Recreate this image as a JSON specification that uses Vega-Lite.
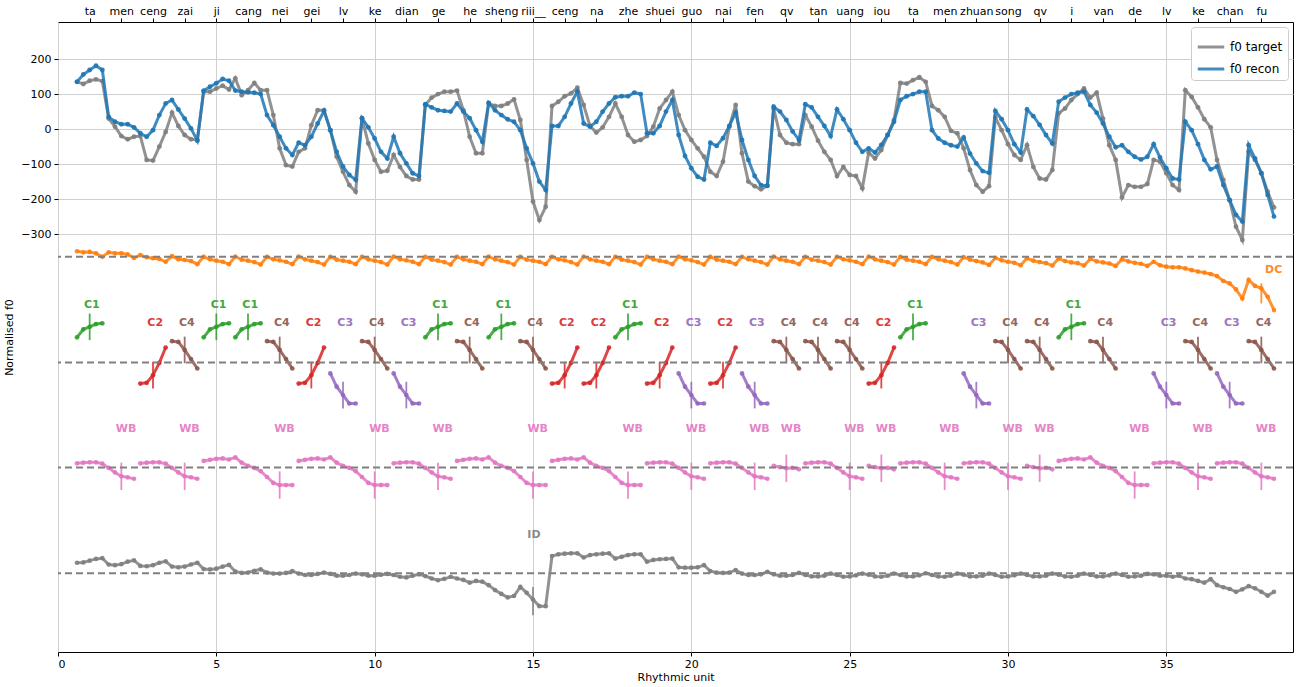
{
"$schema":"https://vega.github.io/schema/vega-lite/v6.json",
"width":1235,"height":630,
"autosize":{"type":"none"},
"padding":{"left":58,"top":22,"right":10,"bottom":35},
"background":"white",
"config":{"font":"DejaVu Sans","view":{"stroke":"black","strokeWidth":1},
"axis":{"labelFont":"DejaVu Sans","titleFont":"DejaVu Sans","labelFontSize":11,"titleFontSize":11,"titleFontWeight":"normal","labelColor":"black","titleColor":"black","tickColor":"black","domainColor":"black","gridColor":"#d0d0d0","gridWidth":1},
"legend":{"labelFont":"DejaVu Sans","labelFontSize":12}},
"datasets":{
"f0":[{"x":0.6,"T":135,"R":135},{"x":0.8,"T":129,"R":156},{"x":1,"T":138,"R":169},{"x":1.2,"T":142,"R":181},{"x":1.4,"T":137,"R":169},
{"x":1.6,"T":30,"R":35},{"x":1.8,"T":7,"R":21},{"x":2,"T":-20,"R":14},{"x":2.2,"T":-29,"R":14},{"x":2.4,"T":-22,"R":5},
{"x":2.6,"T":-20,"R":-12},{"x":2.8,"T":-88,"R":-22},{"x":3,"T":-90,"R":-3},{"x":3.2,"T":-50,"R":40},{"x":3.4,"T":-8,"R":73},
{"x":3.6,"T":47,"R":83},{"x":3.8,"T":9,"R":56},{"x":4,"T":-17,"R":30},{"x":4.2,"T":-29,"R":2},{"x":4.4,"T":-31,"R":-33},
{"x":4.6,"T":107,"R":110},{"x":4.8,"T":107,"R":121},{"x":5,"T":116,"R":131},{"x":5.2,"T":124,"R":143},{"x":5.4,"T":113,"R":138},
{"x":5.6,"T":145,"R":110},{"x":5.8,"T":97,"R":107},{"x":6,"T":111,"R":105},{"x":6.2,"T":132,"R":104},{"x":6.4,"T":111,"R":100},
{"x":6.6,"T":111,"R":40},{"x":6.8,"T":40,"R":11},{"x":7,"T":-55,"R":-22},{"x":7.2,"T":-103,"R":-55},{"x":7.4,"T":-107,"R":-74},
{"x":7.6,"T":-65,"R":-39},{"x":7.8,"T":-55,"R":-46},{"x":8,"T":11,"R":-22},{"x":8.2,"T":54,"R":16},{"x":8.4,"T":54,"R":52},
{"x":8.6,"T":-3,"R":-3},{"x":8.8,"T":-79,"R":-65},{"x":9,"T":-122,"R":-107},{"x":9.2,"T":-160,"R":-131},{"x":9.4,"T":-179,"R":-145},
{"x":9.6,"T":31,"R":31},{"x":9.8,"T":-41,"R":5},{"x":10,"T":-88,"R":-27},{"x":10.2,"T":-122,"R":-65},{"x":10.4,"T":-119,"R":-84},
{"x":10.6,"T":-74,"R":-22},{"x":10.8,"T":-108,"R":-69},{"x":11,"T":-134,"R":-98},{"x":11.2,"T":-144,"R":-126},{"x":11.4,"T":-144,"R":-134},
{"x":11.6,"T":69,"R":71},{"x":11.8,"T":90,"R":62},{"x":12,"T":100,"R":54},{"x":12.2,"T":107,"R":52},{"x":12.4,"T":107,"R":50},
{"x":12.6,"T":110,"R":73},{"x":12.8,"T":54,"R":50},{"x":13,"T":-22,"R":31},{"x":13.2,"T":-69,"R":-3},{"x":13.4,"T":-69,"R":-36},
{"x":13.6,"T":73,"R":75},{"x":13.8,"T":66,"R":54},{"x":14,"T":66,"R":40},{"x":14.2,"T":73,"R":28},{"x":14.4,"T":85,"R":21},
{"x":14.6,"T":26,"R":-3},{"x":14.8,"T":-88,"R":-55},{"x":15,"T":-207,"R":-98},{"x":15.2,"T":-260,"R":-150},{"x":15.4,"T":-222,"R":-174},
{"x":15.6,"T":66,"R":9},{"x":15.8,"T":78,"R":9},{"x":16,"T":94,"R":35},{"x":16.2,"T":102,"R":73},{"x":16.4,"T":118,"R":107},
{"x":16.6,"T":69,"R":16},{"x":16.8,"T":9,"R":7},{"x":17,"T":-10,"R":21},{"x":17.2,"T":5,"R":50},{"x":17.4,"T":35,"R":73},
{"x":17.6,"T":73,"R":91},{"x":17.8,"T":35,"R":94},{"x":18,"T":-17,"R":94},{"x":18.2,"T":-36,"R":104},{"x":18.4,"T":-31,"R":100},
{"x":18.6,"T":-20,"R":-12},{"x":18.8,"T":7,"R":-12},{"x":19,"T":59,"R":9},{"x":19.2,"T":83,"R":50},{"x":19.4,"T":107,"R":83},
{"x":19.6,"T":40,"R":-17},{"x":19.8,"T":-3,"R":-77},{"x":20,"T":-31,"R":-112},{"x":20.2,"T":-55,"R":-136},{"x":20.4,"T":-79,"R":-144},
{"x":20.6,"T":-122,"R":-39},{"x":20.8,"T":-134,"R":-48},{"x":21,"T":-93,"R":-26},{"x":21.2,"T":7,"R":9},{"x":21.4,"T":69,"R":47},
{"x":21.6,"T":-69,"R":-31},{"x":21.8,"T":-150,"R":-88},{"x":22,"T":-163,"R":-134},{"x":22.2,"T":-172,"R":-160},{"x":22.4,"T":-162,"R":-162},
{"x":22.6,"T":59,"R":64},{"x":22.8,"T":-17,"R":50},{"x":23,"T":-39,"R":26},{"x":23.2,"T":-43,"R":-7},{"x":23.4,"T":-43,"R":-31},
{"x":23.6,"T":40,"R":71},{"x":23.8,"T":7,"R":62},{"x":24,"T":-33,"R":35},{"x":24.2,"T":-65,"R":9},{"x":24.4,"T":-88,"R":-20},
{"x":24.6,"T":-134,"R":56},{"x":24.8,"T":-108,"R":28},{"x":25,"T":-131,"R":-3},{"x":25.2,"T":-134,"R":-39},{"x":25.4,"T":-169,"R":-65},
{"x":25.6,"T":-67,"R":-55},{"x":25.8,"T":-84,"R":-67},{"x":26,"T":-60,"R":-45},{"x":26.2,"T":-17,"R":-17},{"x":26.4,"T":26,"R":21},
{"x":26.6,"T":132,"R":83},{"x":26.8,"T":130,"R":94},{"x":27,"T":140,"R":100},{"x":27.2,"T":148,"R":107},{"x":27.4,"T":135,"R":107},
{"x":27.6,"T":66,"R":-3},{"x":27.8,"T":54,"R":-27},{"x":28,"T":35,"R":-39},{"x":28.2,"T":-5,"R":-46},{"x":28.4,"T":-12,"R":-50},
{"x":28.6,"T":-55,"R":-24},{"x":28.8,"T":-117,"R":-70},{"x":29,"T":-160,"R":-98},{"x":29.2,"T":-179,"R":-120},{"x":29.4,"T":-163,"R":-125},
{"x":29.6,"T":33,"R":52},{"x":29.8,"T":-3,"R":28},{"x":30,"T":-43,"R":-3},{"x":30.2,"T":-74,"R":-43},{"x":30.4,"T":-88,"R":-67},
{"x":30.6,"T":-46,"R":56},{"x":30.8,"T":-108,"R":37},{"x":31,"T":-141,"R":12},{"x":31.2,"T":-144,"R":-17},{"x":31.4,"T":-117,"R":-41},
{"x":31.6,"T":45,"R":78},{"x":31.8,"T":59,"R":90},{"x":32,"T":83,"R":100},{"x":32.2,"T":100,"R":104},{"x":32.4,"T":116,"R":107},
{"x":32.6,"T":90,"R":69},{"x":32.8,"T":104,"R":47},{"x":33,"T":30,"R":16},{"x":33.2,"T":-46,"R":-22},{"x":33.4,"T":-88,"R":-52},
{"x":33.6,"T":-195,"R":-46},{"x":33.8,"T":-160,"R":-65},{"x":34,"T":-165,"R":-79},{"x":34.2,"T":-165,"R":-87},{"x":34.4,"T":-157,"R":-79},
{"x":34.6,"T":-88,"R":-43},{"x":34.8,"T":-93,"R":-81},{"x":35,"T":-126,"R":-112},{"x":35.2,"T":-160,"R":-141},{"x":35.4,"T":-174,"R":-144},
{"x":35.6,"T":111,"R":21},{"x":35.8,"T":92,"R":-3},{"x":36,"T":62,"R":-43},{"x":36.2,"T":28,"R":-88},{"x":36.4,"T":5,"R":-115},
{"x":36.6,"T":-88,"R":-107},{"x":36.8,"T":-145,"R":-160},{"x":37,"T":-203,"R":-203},{"x":37.2,"T":-279,"R":-245},{"x":37.4,"T":-317,"R":-264},
{"x":37.6,"T":-65,"R":-46},{"x":37.8,"T":-88,"R":-84},{"x":38,"T":-126,"R":-126},{"x":38.2,"T":-179,"R":-188},{"x":38.4,"T":-224,"R":-250}],
"segs":[
{"g":"c1","t":"C1","x":0.6,"y":-595},{"g":"c1","t":"C1","x":0.8,"y":-572},{"g":"c1","t":"C1","x":1,"y":-565},{"g":"c1","t":"C1","x":1.2,"y":-557},{"g":"c1","t":"C1","x":1.4,"y":-555},
{"g":"c3","t":"C2","x":2.6,"y":-727},{"g":"c3","t":"C2","x":2.8,"y":-725},{"g":"c3","t":"C2","x":3,"y":-703},{"g":"c3","t":"C2","x":3.2,"y":-668},{"g":"c3","t":"C2","x":3.4,"y":-624},
{"g":"c4","t":"C4","x":3.6,"y":-606},{"g":"c4","t":"C4","x":3.8,"y":-608},{"g":"c4","t":"C4","x":4,"y":-631},{"g":"c4","t":"C4","x":4.2,"y":-657},{"g":"c4","t":"C4","x":4.4,"y":-684},
{"g":"c5","t":"C1","x":4.6,"y":-595},{"g":"c5","t":"C1","x":4.8,"y":-572},{"g":"c5","t":"C1","x":5,"y":-565},{"g":"c5","t":"C1","x":5.2,"y":-557},{"g":"c5","t":"C1","x":5.4,"y":-555},
{"g":"c6","t":"C1","x":5.6,"y":-595},{"g":"c6","t":"C1","x":5.8,"y":-572},{"g":"c6","t":"C1","x":6,"y":-565},{"g":"c6","t":"C1","x":6.2,"y":-557},{"g":"c6","t":"C1","x":6.4,"y":-555},
{"g":"c7","t":"C4","x":6.6,"y":-606},{"g":"c7","t":"C4","x":6.8,"y":-608},{"g":"c7","t":"C4","x":7,"y":-631},{"g":"c7","t":"C4","x":7.2,"y":-657},{"g":"c7","t":"C4","x":7.4,"y":-684},
{"g":"c8","t":"C2","x":7.6,"y":-727},{"g":"c8","t":"C2","x":7.8,"y":-725},{"g":"c8","t":"C2","x":8,"y":-703},{"g":"c8","t":"C2","x":8.2,"y":-668},{"g":"c8","t":"C2","x":8.4,"y":-624},
{"g":"c9","t":"C3","x":8.6,"y":-698},{"g":"c9","t":"C3","x":8.8,"y":-736},{"g":"c9","t":"C3","x":9,"y":-760},{"g":"c9","t":"C3","x":9.2,"y":-784},{"g":"c9","t":"C3","x":9.4,"y":-784},
{"g":"c10","t":"C4","x":9.6,"y":-606},{"g":"c10","t":"C4","x":9.8,"y":-608},{"g":"c10","t":"C4","x":10,"y":-631},{"g":"c10","t":"C4","x":10.2,"y":-657},{"g":"c10","t":"C4","x":10.4,"y":-684},
{"g":"c11","t":"C3","x":10.6,"y":-698},{"g":"c11","t":"C3","x":10.8,"y":-736},{"g":"c11","t":"C3","x":11,"y":-760},{"g":"c11","t":"C3","x":11.2,"y":-784},{"g":"c11","t":"C3","x":11.4,"y":-784},
{"g":"c12","t":"C1","x":11.6,"y":-595},{"g":"c12","t":"C1","x":11.8,"y":-572},{"g":"c12","t":"C1","x":12,"y":-565},{"g":"c12","t":"C1","x":12.2,"y":-557},{"g":"c12","t":"C1","x":12.4,"y":-555},
{"g":"c13","t":"C4","x":12.6,"y":-606},{"g":"c13","t":"C4","x":12.8,"y":-608},{"g":"c13","t":"C4","x":13,"y":-631},{"g":"c13","t":"C4","x":13.2,"y":-657},{"g":"c13","t":"C4","x":13.4,"y":-684},
{"g":"c14","t":"C1","x":13.6,"y":-595},{"g":"c14","t":"C1","x":13.8,"y":-572},{"g":"c14","t":"C1","x":14,"y":-565},{"g":"c14","t":"C1","x":14.2,"y":-557},{"g":"c14","t":"C1","x":14.4,"y":-555},
{"g":"c15","t":"C4","x":14.6,"y":-606},{"g":"c15","t":"C4","x":14.8,"y":-608},{"g":"c15","t":"C4","x":15,"y":-631},{"g":"c15","t":"C4","x":15.2,"y":-657},{"g":"c15","t":"C4","x":15.4,"y":-684},
{"g":"c16","t":"C2","x":15.6,"y":-727},{"g":"c16","t":"C2","x":15.8,"y":-725},{"g":"c16","t":"C2","x":16,"y":-703},{"g":"c16","t":"C2","x":16.2,"y":-668},{"g":"c16","t":"C2","x":16.4,"y":-624},
{"g":"c17","t":"C2","x":16.6,"y":-727},{"g":"c17","t":"C2","x":16.8,"y":-725},{"g":"c17","t":"C2","x":17,"y":-703},{"g":"c17","t":"C2","x":17.2,"y":-668},{"g":"c17","t":"C2","x":17.4,"y":-624},
{"g":"c18","t":"C1","x":17.6,"y":-595},{"g":"c18","t":"C1","x":17.8,"y":-572},{"g":"c18","t":"C1","x":18,"y":-565},{"g":"c18","t":"C1","x":18.2,"y":-557},{"g":"c18","t":"C1","x":18.4,"y":-555},
{"g":"c19","t":"C2","x":18.6,"y":-727},{"g":"c19","t":"C2","x":18.8,"y":-725},{"g":"c19","t":"C2","x":19,"y":-703},{"g":"c19","t":"C2","x":19.2,"y":-668},{"g":"c19","t":"C2","x":19.4,"y":-624},
{"g":"c20","t":"C3","x":19.6,"y":-698},{"g":"c20","t":"C3","x":19.8,"y":-736},{"g":"c20","t":"C3","x":20,"y":-760},{"g":"c20","t":"C3","x":20.2,"y":-784},{"g":"c20","t":"C3","x":20.4,"y":-784},
{"g":"c21","t":"C2","x":20.6,"y":-727},{"g":"c21","t":"C2","x":20.8,"y":-725},{"g":"c21","t":"C2","x":21,"y":-703},{"g":"c21","t":"C2","x":21.2,"y":-668},{"g":"c21","t":"C2","x":21.4,"y":-624},
{"g":"c22","t":"C3","x":21.6,"y":-698},{"g":"c22","t":"C3","x":21.8,"y":-736},{"g":"c22","t":"C3","x":22,"y":-760},{"g":"c22","t":"C3","x":22.2,"y":-784},{"g":"c22","t":"C3","x":22.4,"y":-784},
{"g":"c23","t":"C4","x":22.6,"y":-606},{"g":"c23","t":"C4","x":22.8,"y":-608},{"g":"c23","t":"C4","x":23,"y":-631},{"g":"c23","t":"C4","x":23.2,"y":-657},{"g":"c23","t":"C4","x":23.4,"y":-684},
{"g":"c24","t":"C4","x":23.6,"y":-606},{"g":"c24","t":"C4","x":23.8,"y":-608},{"g":"c24","t":"C4","x":24,"y":-631},{"g":"c24","t":"C4","x":24.2,"y":-657},{"g":"c24","t":"C4","x":24.4,"y":-684},
{"g":"c25","t":"C4","x":24.6,"y":-606},{"g":"c25","t":"C4","x":24.8,"y":-608},{"g":"c25","t":"C4","x":25,"y":-631},{"g":"c25","t":"C4","x":25.2,"y":-657},{"g":"c25","t":"C4","x":25.4,"y":-684},
{"g":"c26","t":"C2","x":25.6,"y":-727},{"g":"c26","t":"C2","x":25.8,"y":-725},{"g":"c26","t":"C2","x":26,"y":-703},{"g":"c26","t":"C2","x":26.2,"y":-668},{"g":"c26","t":"C2","x":26.4,"y":-624},
{"g":"c27","t":"C1","x":26.6,"y":-595},{"g":"c27","t":"C1","x":26.8,"y":-572},{"g":"c27","t":"C1","x":27,"y":-565},{"g":"c27","t":"C1","x":27.2,"y":-557},{"g":"c27","t":"C1","x":27.4,"y":-555},
{"g":"c29","t":"C3","x":28.6,"y":-698},{"g":"c29","t":"C3","x":28.8,"y":-736},{"g":"c29","t":"C3","x":29,"y":-760},{"g":"c29","t":"C3","x":29.2,"y":-784},{"g":"c29","t":"C3","x":29.4,"y":-784},
{"g":"c30","t":"C4","x":29.6,"y":-606},{"g":"c30","t":"C4","x":29.8,"y":-608},{"g":"c30","t":"C4","x":30,"y":-631},{"g":"c30","t":"C4","x":30.2,"y":-657},{"g":"c30","t":"C4","x":30.4,"y":-684},
{"g":"c31","t":"C4","x":30.6,"y":-606},{"g":"c31","t":"C4","x":30.8,"y":-608},{"g":"c31","t":"C4","x":31,"y":-631},{"g":"c31","t":"C4","x":31.2,"y":-657},{"g":"c31","t":"C4","x":31.4,"y":-684},
{"g":"c32","t":"C1","x":31.6,"y":-595},{"g":"c32","t":"C1","x":31.8,"y":-572},{"g":"c32","t":"C1","x":32,"y":-565},{"g":"c32","t":"C1","x":32.2,"y":-557},{"g":"c32","t":"C1","x":32.4,"y":-555},
{"g":"c33","t":"C4","x":32.6,"y":-606},{"g":"c33","t":"C4","x":32.8,"y":-608},{"g":"c33","t":"C4","x":33,"y":-631},{"g":"c33","t":"C4","x":33.2,"y":-657},{"g":"c33","t":"C4","x":33.4,"y":-684},
{"g":"c35","t":"C3","x":34.6,"y":-698},{"g":"c35","t":"C3","x":34.8,"y":-736},{"g":"c35","t":"C3","x":35,"y":-760},{"g":"c35","t":"C3","x":35.2,"y":-784},{"g":"c35","t":"C3","x":35.4,"y":-784},
{"g":"c36","t":"C4","x":35.6,"y":-606},{"g":"c36","t":"C4","x":35.8,"y":-608},{"g":"c36","t":"C4","x":36,"y":-631},{"g":"c36","t":"C4","x":36.2,"y":-657},{"g":"c36","t":"C4","x":36.4,"y":-684},
{"g":"c37","t":"C3","x":36.6,"y":-698},{"g":"c37","t":"C3","x":36.8,"y":-736},{"g":"c37","t":"C3","x":37,"y":-760},{"g":"c37","t":"C3","x":37.2,"y":-784},{"g":"c37","t":"C3","x":37.4,"y":-784},
{"g":"c38","t":"C4","x":37.6,"y":-606},{"g":"c38","t":"C4","x":37.8,"y":-608},{"g":"c38","t":"C4","x":38,"y":-631},{"g":"c38","t":"C4","x":38.2,"y":-657},{"g":"c38","t":"C4","x":38.4,"y":-684},
{"g":"w1","t":"WB","x":0.6,"y":-955},{"g":"w1","t":"WB","x":0.8,"y":-953},{"g":"w1","t":"WB","x":1,"y":-952},{"g":"w1","t":"WB","x":1.2,"y":-952},{"g":"w1","t":"WB","x":1.4,"y":-956},{"g":"w1","t":"WB","x":1.6,"y":-968},{"g":"w1","t":"WB","x":1.8,"y":-981},{"g":"w1","t":"WB","x":2,"y":-992},{"g":"w1","t":"WB","x":2.2,"y":-995},{"g":"w1","t":"WB","x":2.4,"y":-999},
{"g":"w3","t":"WB","x":2.6,"y":-955},{"g":"w3","t":"WB","x":2.8,"y":-953},{"g":"w3","t":"WB","x":3,"y":-952},{"g":"w3","t":"WB","x":3.2,"y":-952},{"g":"w3","t":"WB","x":3.4,"y":-956},{"g":"w3","t":"WB","x":3.6,"y":-968},{"g":"w3","t":"WB","x":3.8,"y":-981},{"g":"w3","t":"WB","x":4,"y":-992},{"g":"w3","t":"WB","x":4.2,"y":-995},{"g":"w3","t":"WB","x":4.4,"y":-999},
{"g":"w5","t":"WB","x":4.6,"y":-948},{"g":"w5","t":"WB","x":4.8,"y":-945},{"g":"w5","t":"WB","x":5,"y":-942},{"g":"w5","t":"WB","x":5.2,"y":-941},{"g":"w5","t":"WB","x":5.4,"y":-944},{"g":"w5","t":"WB","x":5.6,"y":-938},{"g":"w5","t":"WB","x":5.8,"y":-953},{"g":"w5","t":"WB","x":6,"y":-962},{"g":"w5","t":"WB","x":6.2,"y":-968},{"g":"w5","t":"WB","x":6.4,"y":-977},{"g":"w5","t":"WB","x":6.6,"y":-994},{"g":"w5","t":"WB","x":6.8,"y":-1011},{"g":"w5","t":"WB","x":7,"y":-1017},{"g":"w5","t":"WB","x":7.2,"y":-1017},{"g":"w5","t":"WB","x":7.4,"y":-1017},
{"g":"w8","t":"WB","x":7.6,"y":-948},{"g":"w8","t":"WB","x":7.8,"y":-945},{"g":"w8","t":"WB","x":8,"y":-942},{"g":"w8","t":"WB","x":8.2,"y":-941},{"g":"w8","t":"WB","x":8.4,"y":-944},{"g":"w8","t":"WB","x":8.6,"y":-938},{"g":"w8","t":"WB","x":8.8,"y":-953},{"g":"w8","t":"WB","x":9,"y":-962},{"g":"w8","t":"WB","x":9.2,"y":-968},{"g":"w8","t":"WB","x":9.4,"y":-977},{"g":"w8","t":"WB","x":9.6,"y":-994},{"g":"w8","t":"WB","x":9.8,"y":-1011},{"g":"w8","t":"WB","x":10,"y":-1017},{"g":"w8","t":"WB","x":10.2,"y":-1017},{"g":"w8","t":"WB","x":10.4,"y":-1017},
{"g":"w11","t":"WB","x":10.6,"y":-955},{"g":"w11","t":"WB","x":10.8,"y":-953},{"g":"w11","t":"WB","x":11,"y":-952},{"g":"w11","t":"WB","x":11.2,"y":-952},{"g":"w11","t":"WB","x":11.4,"y":-956},{"g":"w11","t":"WB","x":11.6,"y":-968},{"g":"w11","t":"WB","x":11.8,"y":-981},{"g":"w11","t":"WB","x":12,"y":-992},{"g":"w11","t":"WB","x":12.2,"y":-995},{"g":"w11","t":"WB","x":12.4,"y":-999},
{"g":"w13","t":"WB","x":12.6,"y":-948},{"g":"w13","t":"WB","x":12.8,"y":-945},{"g":"w13","t":"WB","x":13,"y":-942},{"g":"w13","t":"WB","x":13.2,"y":-941},{"g":"w13","t":"WB","x":13.4,"y":-944},{"g":"w13","t":"WB","x":13.6,"y":-938},{"g":"w13","t":"WB","x":13.8,"y":-953},{"g":"w13","t":"WB","x":14,"y":-962},{"g":"w13","t":"WB","x":14.2,"y":-968},{"g":"w13","t":"WB","x":14.4,"y":-977},{"g":"w13","t":"WB","x":14.6,"y":-994},{"g":"w13","t":"WB","x":14.8,"y":-1011},{"g":"w13","t":"WB","x":15,"y":-1017},{"g":"w13","t":"WB","x":15.2,"y":-1017},{"g":"w13","t":"WB","x":15.4,"y":-1017},
{"g":"w16","t":"WB","x":15.6,"y":-948},{"g":"w16","t":"WB","x":15.8,"y":-945},{"g":"w16","t":"WB","x":16,"y":-942},{"g":"w16","t":"WB","x":16.2,"y":-941},{"g":"w16","t":"WB","x":16.4,"y":-944},{"g":"w16","t":"WB","x":16.6,"y":-938},{"g":"w16","t":"WB","x":16.8,"y":-953},{"g":"w16","t":"WB","x":17,"y":-962},{"g":"w16","t":"WB","x":17.2,"y":-968},{"g":"w16","t":"WB","x":17.4,"y":-977},{"g":"w16","t":"WB","x":17.6,"y":-994},{"g":"w16","t":"WB","x":17.8,"y":-1011},{"g":"w16","t":"WB","x":18,"y":-1017},{"g":"w16","t":"WB","x":18.2,"y":-1017},{"g":"w16","t":"WB","x":18.4,"y":-1017},
{"g":"w19","t":"WB","x":18.6,"y":-955},{"g":"w19","t":"WB","x":18.8,"y":-953},{"g":"w19","t":"WB","x":19,"y":-952},{"g":"w19","t":"WB","x":19.2,"y":-952},{"g":"w19","t":"WB","x":19.4,"y":-956},{"g":"w19","t":"WB","x":19.6,"y":-968},{"g":"w19","t":"WB","x":19.8,"y":-981},{"g":"w19","t":"WB","x":20,"y":-992},{"g":"w19","t":"WB","x":20.2,"y":-995},{"g":"w19","t":"WB","x":20.4,"y":-999},
{"g":"w21","t":"WB","x":20.6,"y":-955},{"g":"w21","t":"WB","x":20.8,"y":-953},{"g":"w21","t":"WB","x":21,"y":-952},{"g":"w21","t":"WB","x":21.2,"y":-952},{"g":"w21","t":"WB","x":21.4,"y":-956},{"g":"w21","t":"WB","x":21.6,"y":-968},{"g":"w21","t":"WB","x":21.8,"y":-981},{"g":"w21","t":"WB","x":22,"y":-992},{"g":"w21","t":"WB","x":22.2,"y":-995},{"g":"w21","t":"WB","x":22.4,"y":-999},
{"g":"w23","t":"WB","x":22.6,"y":-962},{"g":"w23","t":"WB","x":22.8,"y":-966},{"g":"w23","t":"WB","x":23,"y":-969},{"g":"w23","t":"WB","x":23.2,"y":-968},{"g":"w23","t":"WB","x":23.4,"y":-972},
{"g":"w24","t":"WB","x":23.6,"y":-955},{"g":"w24","t":"WB","x":23.8,"y":-953},{"g":"w24","t":"WB","x":24,"y":-952},{"g":"w24","t":"WB","x":24.2,"y":-952},{"g":"w24","t":"WB","x":24.4,"y":-956},{"g":"w24","t":"WB","x":24.6,"y":-968},{"g":"w24","t":"WB","x":24.8,"y":-981},{"g":"w24","t":"WB","x":25,"y":-992},{"g":"w24","t":"WB","x":25.2,"y":-995},{"g":"w24","t":"WB","x":25.4,"y":-999},
{"g":"w26","t":"WB","x":25.6,"y":-962},{"g":"w26","t":"WB","x":25.8,"y":-966},{"g":"w26","t":"WB","x":26,"y":-969},{"g":"w26","t":"WB","x":26.2,"y":-968},{"g":"w26","t":"WB","x":26.4,"y":-972},
{"g":"w27","t":"WB","x":26.6,"y":-955},{"g":"w27","t":"WB","x":26.8,"y":-953},{"g":"w27","t":"WB","x":27,"y":-952},{"g":"w27","t":"WB","x":27.2,"y":-952},{"g":"w27","t":"WB","x":27.4,"y":-956},{"g":"w27","t":"WB","x":27.6,"y":-968},{"g":"w27","t":"WB","x":27.8,"y":-981},{"g":"w27","t":"WB","x":28,"y":-992},{"g":"w27","t":"WB","x":28.2,"y":-995},{"g":"w27","t":"WB","x":28.4,"y":-999},
{"g":"w29","t":"WB","x":28.6,"y":-955},{"g":"w29","t":"WB","x":28.8,"y":-953},{"g":"w29","t":"WB","x":29,"y":-952},{"g":"w29","t":"WB","x":29.2,"y":-952},{"g":"w29","t":"WB","x":29.4,"y":-956},{"g":"w29","t":"WB","x":29.6,"y":-968},{"g":"w29","t":"WB","x":29.8,"y":-981},{"g":"w29","t":"WB","x":30,"y":-992},{"g":"w29","t":"WB","x":30.2,"y":-995},{"g":"w29","t":"WB","x":30.4,"y":-999},
{"g":"w31","t":"WB","x":30.6,"y":-962},{"g":"w31","t":"WB","x":30.8,"y":-966},{"g":"w31","t":"WB","x":31,"y":-969},{"g":"w31","t":"WB","x":31.2,"y":-968},{"g":"w31","t":"WB","x":31.4,"y":-972},
{"g":"w32","t":"WB","x":31.6,"y":-948},{"g":"w32","t":"WB","x":31.8,"y":-945},{"g":"w32","t":"WB","x":32,"y":-942},{"g":"w32","t":"WB","x":32.2,"y":-941},{"g":"w32","t":"WB","x":32.4,"y":-944},{"g":"w32","t":"WB","x":32.6,"y":-938},{"g":"w32","t":"WB","x":32.8,"y":-953},{"g":"w32","t":"WB","x":33,"y":-962},{"g":"w32","t":"WB","x":33.2,"y":-968},{"g":"w32","t":"WB","x":33.4,"y":-977},{"g":"w32","t":"WB","x":33.6,"y":-994},{"g":"w32","t":"WB","x":33.8,"y":-1011},{"g":"w32","t":"WB","x":34,"y":-1017},{"g":"w32","t":"WB","x":34.2,"y":-1017},{"g":"w32","t":"WB","x":34.4,"y":-1017},
{"g":"w35","t":"WB","x":34.6,"y":-955},{"g":"w35","t":"WB","x":34.8,"y":-953},{"g":"w35","t":"WB","x":35,"y":-952},{"g":"w35","t":"WB","x":35.2,"y":-952},{"g":"w35","t":"WB","x":35.4,"y":-956},{"g":"w35","t":"WB","x":35.6,"y":-968},{"g":"w35","t":"WB","x":35.8,"y":-981},{"g":"w35","t":"WB","x":36,"y":-992},{"g":"w35","t":"WB","x":36.2,"y":-995},{"g":"w35","t":"WB","x":36.4,"y":-999},
{"g":"w37","t":"WB","x":36.6,"y":-955},{"g":"w37","t":"WB","x":36.8,"y":-953},{"g":"w37","t":"WB","x":37,"y":-952},{"g":"w37","t":"WB","x":37.2,"y":-952},{"g":"w37","t":"WB","x":37.4,"y":-956},{"g":"w37","t":"WB","x":37.6,"y":-968},{"g":"w37","t":"WB","x":37.8,"y":-981},{"g":"w37","t":"WB","x":38,"y":-992},{"g":"w37","t":"WB","x":38.2,"y":-995},{"g":"w37","t":"WB","x":38.4,"y":-999}
],
"dc":[{"x":0.6,"y":-349},{"x":0.8,"y":-352},{"x":1,"y":-351},{"x":1.2,"y":-355},{"x":1.4,"y":-365},
{"x":1.6,"y":-352},{"x":1.8,"y":-355},{"x":2,"y":-355},{"x":2.2,"y":-358},{"x":2.4,"y":-368},
{"x":2.6,"y":-360},{"x":2.8,"y":-366},{"x":3,"y":-369},{"x":3.2,"y":-371},{"x":3.4,"y":-379},
{"x":3.6,"y":-363},{"x":3.8,"y":-372},{"x":4,"y":-374},{"x":4.2,"y":-377},{"x":4.4,"y":-386},
{"x":4.6,"y":-365},{"x":4.8,"y":-372},{"x":5,"y":-376},{"x":5.2,"y":-379},{"x":5.4,"y":-386},
{"x":5.6,"y":-364},{"x":5.8,"y":-373},{"x":6,"y":-376},{"x":6.2,"y":-380},{"x":6.4,"y":-387},
{"x":6.6,"y":-365},{"x":6.8,"y":-372},{"x":7,"y":-375},{"x":7.2,"y":-379},{"x":7.4,"y":-386},
{"x":7.6,"y":-364},{"x":7.8,"y":-372},{"x":8,"y":-376},{"x":8.2,"y":-380},{"x":8.4,"y":-387},
{"x":8.6,"y":-365},{"x":8.8,"y":-373},{"x":9,"y":-376},{"x":9.2,"y":-379},{"x":9.4,"y":-386},
{"x":9.6,"y":-365},{"x":9.8,"y":-372},{"x":10,"y":-376},{"x":10.2,"y":-380},{"x":10.4,"y":-387},
{"x":10.6,"y":-364},{"x":10.8,"y":-372},{"x":11,"y":-375},{"x":11.2,"y":-379},{"x":11.4,"y":-386},
{"x":11.6,"y":-365},{"x":11.8,"y":-373},{"x":12,"y":-376},{"x":12.2,"y":-380},{"x":12.4,"y":-387},
{"x":12.6,"y":-365},{"x":12.8,"y":-372},{"x":13,"y":-376},{"x":13.2,"y":-379},{"x":13.4,"y":-386},
{"x":13.6,"y":-364},{"x":13.8,"y":-372},{"x":14,"y":-376},{"x":14.2,"y":-380},{"x":14.4,"y":-387},
{"x":14.6,"y":-365},{"x":14.8,"y":-373},{"x":15,"y":-376},{"x":15.2,"y":-379},{"x":15.4,"y":-386},
{"x":15.6,"y":-365},{"x":15.8,"y":-372},{"x":16,"y":-375},{"x":16.2,"y":-380},{"x":16.4,"y":-387},
{"x":16.6,"y":-364},{"x":16.8,"y":-372},{"x":17,"y":-376},{"x":17.2,"y":-379},{"x":17.4,"y":-386},
{"x":17.6,"y":-365},{"x":17.8,"y":-373},{"x":18,"y":-376},{"x":18.2,"y":-380},{"x":18.4,"y":-387},
{"x":18.6,"y":-365},{"x":18.8,"y":-372},{"x":19,"y":-376},{"x":19.2,"y":-379},{"x":19.4,"y":-386},
{"x":19.6,"y":-364},{"x":19.8,"y":-372},{"x":20,"y":-375},{"x":20.2,"y":-380},{"x":20.4,"y":-387},
{"x":20.6,"y":-365},{"x":20.8,"y":-373},{"x":21,"y":-376},{"x":21.2,"y":-379},{"x":21.4,"y":-386},
{"x":21.6,"y":-365},{"x":21.8,"y":-372},{"x":22,"y":-376},{"x":22.2,"y":-380},{"x":22.4,"y":-387},
{"x":22.6,"y":-364},{"x":22.8,"y":-372},{"x":23,"y":-376},{"x":23.2,"y":-379},{"x":23.4,"y":-386},
{"x":23.6,"y":-365},{"x":23.8,"y":-373},{"x":24,"y":-376},{"x":24.2,"y":-380},{"x":24.4,"y":-387},
{"x":24.6,"y":-365},{"x":24.8,"y":-372},{"x":25,"y":-375},{"x":25.2,"y":-379},{"x":25.4,"y":-386},
{"x":25.6,"y":-364},{"x":25.8,"y":-372},{"x":26,"y":-376},{"x":26.2,"y":-380},{"x":26.4,"y":-387},
{"x":26.6,"y":-365},{"x":26.8,"y":-373},{"x":27,"y":-376},{"x":27.2,"y":-379},{"x":27.4,"y":-386},
{"x":27.6,"y":-365},{"x":27.8,"y":-372},{"x":28,"y":-376},{"x":28.2,"y":-380},{"x":28.4,"y":-387},
{"x":28.6,"y":-366},{"x":28.8,"y":-373},{"x":29,"y":-377},{"x":29.2,"y":-381},{"x":29.4,"y":-388},
{"x":29.6,"y":-368},{"x":29.8,"y":-375},{"x":30,"y":-379},{"x":30.2,"y":-382},{"x":30.4,"y":-389},
{"x":30.6,"y":-369},{"x":30.8,"y":-376},{"x":31,"y":-380},{"x":31.2,"y":-383},{"x":31.4,"y":-390},
{"x":31.6,"y":-370},{"x":31.8,"y":-377},{"x":32,"y":-381},{"x":32.2,"y":-383},{"x":32.4,"y":-390},
{"x":32.6,"y":-371},{"x":32.8,"y":-378},{"x":33,"y":-381},{"x":33.2,"y":-384},{"x":33.4,"y":-391},
{"x":33.6,"y":-372},{"x":33.8,"y":-378},{"x":34,"y":-382},{"x":34.2,"y":-385},{"x":34.4,"y":-391},
{"x":34.6,"y":-379},{"x":34.8,"y":-389},{"x":35,"y":-393},{"x":35.2,"y":-395},{"x":35.4,"y":-395},
{"x":35.6,"y":-398},{"x":35.8,"y":-403},{"x":36,"y":-407},{"x":36.2,"y":-410},{"x":36.4,"y":-414},
{"x":36.6,"y":-420},{"x":36.8,"y":-434},{"x":37,"y":-441},{"x":37.2,"y":-458},{"x":37.4,"y":-484},
{"x":37.6,"y":-431},{"x":37.8,"y":-448},{"x":38,"y":-455},{"x":38.2,"y":-479},{"x":38.4,"y":-517}],
"id":[{"x":0.6,"y":-1239},{"x":0.8,"y":-1238},{"x":1,"y":-1233},{"x":1.2,"y":-1228},{"x":1.4,"y":-1226},
{"x":1.6,"y":-1244},{"x":1.8,"y":-1246},{"x":2,"y":-1243},{"x":2.2,"y":-1236},{"x":2.4,"y":-1232},
{"x":2.6,"y":-1248},{"x":2.8,"y":-1249},{"x":3,"y":-1246},{"x":3.2,"y":-1239},{"x":3.4,"y":-1235},
{"x":3.6,"y":-1250},{"x":3.8,"y":-1252},{"x":4,"y":-1250},{"x":4.2,"y":-1244},{"x":4.4,"y":-1239},
{"x":4.6,"y":-1257},{"x":4.8,"y":-1258},{"x":5,"y":-1256},{"x":5.2,"y":-1250},{"x":5.4,"y":-1245},
{"x":5.6,"y":-1264},{"x":5.8,"y":-1268},{"x":6,"y":-1267},{"x":6.2,"y":-1262},{"x":6.4,"y":-1258},
{"x":6.6,"y":-1267},{"x":6.8,"y":-1270},{"x":7,"y":-1270},{"x":7.2,"y":-1268},{"x":7.4,"y":-1263},
{"x":7.6,"y":-1270},{"x":7.8,"y":-1274},{"x":8,"y":-1274},{"x":8.2,"y":-1271},{"x":8.4,"y":-1267},
{"x":8.6,"y":-1271},{"x":8.8,"y":-1276},{"x":9,"y":-1276},{"x":9.2,"y":-1274},{"x":9.4,"y":-1270},
{"x":9.6,"y":-1272},{"x":9.8,"y":-1276},{"x":10,"y":-1276},{"x":10.2,"y":-1273},{"x":10.4,"y":-1271},
{"x":10.6,"y":-1274},{"x":10.8,"y":-1279},{"x":11,"y":-1281},{"x":11.2,"y":-1276},{"x":11.4,"y":-1272},
{"x":11.6,"y":-1277},{"x":11.8,"y":-1284},{"x":12,"y":-1289},{"x":12.2,"y":-1285},{"x":12.4,"y":-1279},
{"x":12.6,"y":-1284},{"x":12.8,"y":-1288},{"x":13,"y":-1296},{"x":13.2,"y":-1291},{"x":13.4,"y":-1293},
{"x":13.6,"y":-1303},{"x":13.8,"y":-1317},{"x":14,"y":-1328},{"x":14.2,"y":-1338},{"x":14.4,"y":-1334},
{"x":14.6,"y":-1308},{"x":14.8,"y":-1325},{"x":15,"y":-1344},{"x":15.2,"y":-1363},{"x":15.4,"y":-1363},
{"x":15.6,"y":-1220},{"x":15.8,"y":-1215},{"x":16,"y":-1213},{"x":16.2,"y":-1212},{"x":16.4,"y":-1212},
{"x":16.6,"y":-1224},{"x":16.8,"y":-1217},{"x":17,"y":-1215},{"x":17.2,"y":-1213},{"x":17.4,"y":-1212},
{"x":17.6,"y":-1227},{"x":17.8,"y":-1222},{"x":18,"y":-1217},{"x":18.2,"y":-1215},{"x":18.4,"y":-1215},
{"x":18.6,"y":-1236},{"x":18.8,"y":-1231},{"x":19,"y":-1229},{"x":19.2,"y":-1228},{"x":19.4,"y":-1227},
{"x":19.6,"y":-1252},{"x":19.8,"y":-1253},{"x":20,"y":-1253},{"x":20.2,"y":-1252},{"x":20.4,"y":-1246},
{"x":20.6,"y":-1263},{"x":20.8,"y":-1267},{"x":21,"y":-1268},{"x":21.2,"y":-1267},{"x":21.4,"y":-1260},
{"x":21.6,"y":-1270},{"x":21.8,"y":-1274},{"x":22,"y":-1274},{"x":22.2,"y":-1272},{"x":22.4,"y":-1265},
{"x":22.6,"y":-1272},{"x":22.8,"y":-1276},{"x":23,"y":-1276},{"x":23.2,"y":-1274},{"x":23.4,"y":-1268},
{"x":23.6,"y":-1274},{"x":23.8,"y":-1278},{"x":24,"y":-1278},{"x":24.2,"y":-1276},{"x":24.4,"y":-1270},
{"x":24.6,"y":-1274},{"x":24.8,"y":-1279},{"x":25,"y":-1278},{"x":25.2,"y":-1275},{"x":25.4,"y":-1270},
{"x":25.6,"y":-1273},{"x":25.8,"y":-1278},{"x":26,"y":-1279},{"x":26.2,"y":-1276},{"x":26.4,"y":-1270},
{"x":26.6,"y":-1274},{"x":26.8,"y":-1278},{"x":27,"y":-1278},{"x":27.2,"y":-1275},{"x":27.4,"y":-1269},
{"x":27.6,"y":-1274},{"x":27.8,"y":-1278},{"x":28,"y":-1279},{"x":28.2,"y":-1276},{"x":28.4,"y":-1270},
{"x":28.6,"y":-1273},{"x":28.8,"y":-1278},{"x":29,"y":-1278},{"x":29.2,"y":-1276},{"x":29.4,"y":-1270},
{"x":29.6,"y":-1274},{"x":29.8,"y":-1279},{"x":30,"y":-1278},{"x":30.2,"y":-1275},{"x":30.4,"y":-1270},
{"x":30.6,"y":-1274},{"x":30.8,"y":-1278},{"x":31,"y":-1278},{"x":31.2,"y":-1276},{"x":31.4,"y":-1270},
{"x":31.6,"y":-1273},{"x":31.8,"y":-1278},{"x":32,"y":-1279},{"x":32.2,"y":-1276},{"x":32.4,"y":-1270},
{"x":32.6,"y":-1274},{"x":32.8,"y":-1278},{"x":33,"y":-1278},{"x":33.2,"y":-1275},{"x":33.4,"y":-1270},
{"x":33.6,"y":-1274},{"x":33.8,"y":-1279},{"x":34,"y":-1278},{"x":34.2,"y":-1276},{"x":34.4,"y":-1271},
{"x":34.6,"y":-1272},{"x":34.8,"y":-1276},{"x":35,"y":-1276},{"x":35.2,"y":-1279},{"x":35.4,"y":-1276},
{"x":35.6,"y":-1284},{"x":35.8,"y":-1286},{"x":36,"y":-1291},{"x":36.2,"y":-1296},{"x":36.4,"y":-1286},
{"x":36.6,"y":-1303},{"x":36.8,"y":-1309},{"x":37,"y":-1314},{"x":37.2,"y":-1322},{"x":37.4,"y":-1315},
{"x":37.6,"y":-1306},{"x":37.8,"y":-1312},{"x":38,"y":-1322},{"x":38.2,"y":-1333},{"x":38.4,"y":-1322}],
"ticks":[
{"t":"C1","x":1,"y":-527,"y2":-603},{"t":"C2","x":3,"y":-665,"y2":-741},{"t":"C4","x":4,"y":-593,"y2":-669},{"t":"C1","x":5,"y":-527,"y2":-603},{"t":"C1","x":6,"y":-527,"y2":-603},{"t":"C4","x":7,"y":-593,"y2":-669},{"t":"C2","x":8,"y":-665,"y2":-741},{"t":"C3","x":9,"y":-722,"y2":-798},{"t":"C4","x":10,"y":-593,"y2":-669},{"t":"C3","x":11,"y":-722,"y2":-798},{"t":"C1","x":12,"y":-527,"y2":-603},{"t":"C4","x":13,"y":-593,"y2":-669},{"t":"C1","x":14,"y":-527,"y2":-603},{"t":"C4","x":15,"y":-593,"y2":-669},{"t":"C2","x":16,"y":-665,"y2":-741},{"t":"C2","x":17,"y":-665,"y2":-741},{"t":"C1","x":18,"y":-527,"y2":-603},{"t":"C2","x":19,"y":-665,"y2":-741},{"t":"C3","x":20,"y":-722,"y2":-798},{"t":"C2","x":21,"y":-665,"y2":-741},{"t":"C3","x":22,"y":-722,"y2":-798},{"t":"C4","x":23,"y":-593,"y2":-669},{"t":"C4","x":24,"y":-593,"y2":-669},{"t":"C4","x":25,"y":-593,"y2":-669},{"t":"C2","x":26,"y":-665,"y2":-741},{"t":"C1","x":27,"y":-527,"y2":-603},{"t":"C3","x":29,"y":-722,"y2":-798},{"t":"C4","x":30,"y":-593,"y2":-669},{"t":"C4","x":31,"y":-593,"y2":-669},{"t":"C1","x":32,"y":-527,"y2":-603},{"t":"C4","x":33,"y":-593,"y2":-669},{"t":"C3","x":35,"y":-722,"y2":-798},{"t":"C4","x":36,"y":-593,"y2":-669},{"t":"C3","x":37,"y":-722,"y2":-798},{"t":"C4","x":38,"y":-593,"y2":-669},
{"t":"WB","x":2,"y":-953,"y2":-1031},{"t":"WB","x":4,"y":-953,"y2":-1031},{"t":"WB","x":7,"y":-978,"y2":-1056},{"t":"WB","x":10,"y":-978,"y2":-1056},{"t":"WB","x":12,"y":-953,"y2":-1031},{"t":"WB","x":15,"y":-978,"y2":-1056},{"t":"WB","x":18,"y":-978,"y2":-1056},{"t":"WB","x":20,"y":-953,"y2":-1031},{"t":"WB","x":22,"y":-953,"y2":-1031},{"t":"WB","x":23,"y":-930,"y2":-1008},{"t":"WB","x":25,"y":-953,"y2":-1031},{"t":"WB","x":26,"y":-930,"y2":-1008},{"t":"WB","x":28,"y":-953,"y2":-1031},{"t":"WB","x":30,"y":-953,"y2":-1031},{"t":"WB","x":31,"y":-930,"y2":-1008},{"t":"WB","x":34,"y":-978,"y2":-1056},{"t":"WB","x":36,"y":-953,"y2":-1031},{"t":"WB","x":38,"y":-953,"y2":-1031},
{"t":"DC","x":38,"y":-441,"y2":-498},{"t":"ID","x":15,"y":-1308,"y2":-1389}],
"labels":[
{"t":"C1","x":1.07,"y":-503},{"t":"C2","x":3.07,"y":-555},{"t":"C4","x":4.07,"y":-555},{"t":"C1","x":5.07,"y":-503},{"t":"C1","x":6.07,"y":-503},{"t":"C4","x":7.07,"y":-555},{"t":"C2","x":8.07,"y":-555},{"t":"C3","x":9.07,"y":-555},{"t":"C4","x":10.07,"y":-555},{"t":"C3","x":11.07,"y":-555},{"t":"C1","x":12.07,"y":-503},{"t":"C4","x":13.07,"y":-555},{"t":"C1","x":14.07,"y":-503},{"t":"C4","x":15.07,"y":-555},{"t":"C2","x":16.07,"y":-555},{"t":"C2","x":17.07,"y":-555},{"t":"C1","x":18.07,"y":-503},{"t":"C2","x":19.07,"y":-555},{"t":"C3","x":20.07,"y":-555},{"t":"C2","x":21.07,"y":-555},{"t":"C3","x":22.07,"y":-555},{"t":"C4","x":23.07,"y":-555},{"t":"C4","x":24.07,"y":-555},{"t":"C4","x":25.07,"y":-555},{"t":"C2","x":26.07,"y":-555},{"t":"C1","x":27.07,"y":-503},{"t":"C3","x":29.07,"y":-555},{"t":"C4","x":30.07,"y":-555},{"t":"C4","x":31.07,"y":-555},{"t":"C1","x":32.07,"y":-503},{"t":"C4","x":33.07,"y":-555},{"t":"C3","x":35.07,"y":-555},{"t":"C4","x":36.07,"y":-555},{"t":"C3","x":37.07,"y":-555},{"t":"C4","x":38.07,"y":-555},
{"t":"WB","x":2.15,"y":-857},{"t":"WB","x":4.15,"y":-857},{"t":"WB","x":7.15,"y":-857},{"t":"WB","x":10.15,"y":-857},{"t":"WB","x":12.15,"y":-857},{"t":"WB","x":15.15,"y":-857},{"t":"WB","x":18.15,"y":-857},{"t":"WB","x":20.15,"y":-857},{"t":"WB","x":22.15,"y":-857},{"t":"WB","x":23.15,"y":-857},{"t":"WB","x":25.15,"y":-857},{"t":"WB","x":26.15,"y":-857},{"t":"WB","x":28.15,"y":-857},{"t":"WB","x":30.15,"y":-857},{"t":"WB","x":31.15,"y":-857},{"t":"WB","x":34.15,"y":-857},{"t":"WB","x":36.15,"y":-857},{"t":"WB","x":38.15,"y":-857},
{"t":"DC","x":38.39,"y":-403},{"t":"ID","x":15.03,"y":-1160}],
"dash":[{"y":-365},{"y":-667},{"y":-967},{"y":-1269}]
},
"resolve":{"axis":{"x":"independent","y":"independent"}},
"layer":[
{"data":{"name":"f0"},
 "mark":{"type":"line","strokeWidth":3,"opacity":0.85,"point":{"filled":true,"size":24,"opacity":0.9}},
 "encoding":{
  "x":{"field":"x","type":"quantitative","scale":{"domain":[0,39],"nice":false,"zero":false},
       "axis":{"orient":"bottom","values":[0,5,10,15,20,25,30,35],"title":"Rhythmic unit","grid":true,"tickSize":4,"labelPadding":2,"titlePadding":2,"domain":false,"format":"d"}},
  "y":{"field":"T","type":"quantitative","scale":{"domain":[-1494,306],"nice":false,"zero":false},
       "axis":{"values":[200,100,0,-100,-200,-300],"title":"Normalised f0","grid":true,"tickSize":4,"labelPadding":3,"titlePadding":6,"domain":false,"format":"d"}},
  "color":{"datum":"f0 target","type":"nominal","title":null,
   "scale":{"domain":["f0 target","f0 recon","C1","C2","C3","C4","WB","DC","ID"],"range":["#7f7f7f","#1f77b4","#2ca02c","#d62728","#9467bd","#8c564b","#e377c2","#ff7f0e","#7f7f7f"]},
   "legend":{"values":["f0 target","f0 recon"],"title":null,"orient":"top-right","offset":5,"symbolType":"stroke","symbolStrokeWidth":3,"symbolSize":700,"strokeColor":"#cccccc","fillColor":"white","padding":5,"cornerRadius":3,"labelFontSize":12,"rowPadding":1}}
 }},
{"data":{"name":"f0"},
 "mark":{"type":"line","strokeWidth":3,"opacity":0.85,"point":{"filled":true,"size":24,"opacity":0.9}},
 "encoding":{
  "x":{"field":"x","type":"quantitative",
       "axis":{"orient":"top","values":[1,2,3,4,5,6,7,8,9,10,11,12,13,14,15,16,17,18,19,20,21,22,23,24,25,26,27,28,29,30,31,32,33,34,35,36,37,38],"labelExpr":"['ta','men','ceng','zai','ji','cang','nei','gei','lv','ke','dian','ge','he','sheng','riii__','ceng','na','zhe','shuei','guo','nai','fen','qv','tan','uang','iou','ta','men','zhuan','song','qv','i','van','de','lv','ke','chan','fu'][datum.value-1]","title":null,"grid":false,"tickSize":4,"labelPadding":2,"domain":false,"labelFontSize":11,"labelOverlap":false}},
  "y":{"field":"R","type":"quantitative","axis":null},
  "color":{"datum":"f0 recon","type":"nominal","title":null}
 }},
{"data":{"name":"segs"},
 "mark":{"type":"line","strokeWidth":3,"opacity":0.85,"point":{"filled":true,"size":22,"opacity":0.9}},
 "encoding":{
  "x":{"field":"x","type":"quantitative","axis":null},
  "y":{"field":"y","type":"quantitative","axis":null},
  "detail":{"field":"g"},
  "color":{"field":"t","type":"nominal","title":null}
 }},
{"data":{"name":"dc"},
 "mark":{"type":"line","strokeWidth":3,"opacity":0.85,"color":"#ff7f0e","point":{"filled":true,"size":22,"opacity":0.9,"color":"#ff7f0e"}},
 "encoding":{
  "x":{"field":"x","type":"quantitative","axis":null},
  "y":{"field":"y","type":"quantitative","axis":null}
 }},
{"data":{"name":"id"},
 "mark":{"type":"line","strokeWidth":3,"opacity":0.85,"color":"#7f7f7f","point":{"filled":true,"size":22,"opacity":0.9,"color":"#7f7f7f"}},
 "encoding":{
  "x":{"field":"x","type":"quantitative","axis":null},
  "y":{"field":"y","type":"quantitative","axis":null}
 }},
{"data":{"name":"ticks"},
 "mark":{"type":"rule","strokeWidth":1.8,"opacity":0.85},
 "encoding":{
  "x":{"field":"x","type":"quantitative","axis":null},
  "y":{"field":"y","type":"quantitative","axis":null},
  "y2":{"field":"y2"},
  "color":{"field":"t","type":"nominal","title":null}
 }},
{"data":{"name":"labels"},
 "mark":{"type":"text","font":"DejaVu Sans","fontWeight":"bold","fontSize":11,"align":"center","baseline":"middle","opacity":0.9},
 "encoding":{
  "x":{"field":"x","type":"quantitative","axis":null},
  "y":{"field":"y","type":"quantitative","axis":null},
  "text":{"field":"t"},
  "color":{"field":"t","type":"nominal","title":null}
 }},
{"data":{"name":"dash"},
 "mark":{"type":"rule","strokeWidth":2,"strokeDash":[7,4],"color":"#808080"},
 "encoding":{
  "y":{"field":"y","type":"quantitative","axis":null}
 }}
]
}
